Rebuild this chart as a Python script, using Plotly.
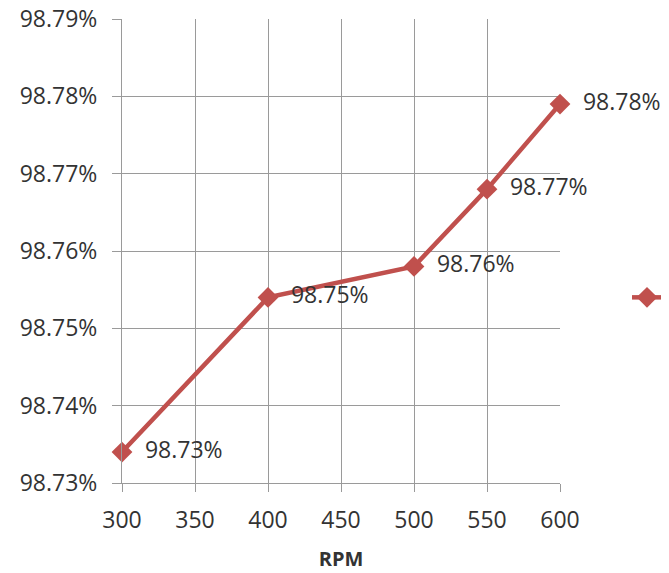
import plotly.graph_objects as go

rpm = [300, 400, 500, 550, 600]
efficiency = [0.98734, 0.98754, 0.98758, 0.98768, 0.98779]
series_name = "Efficiency"

line_color = "#C0504D"
grid_color = "#9A9A9A"
text_color = "#333333"
font_family = "Open Sans"

fig = go.Figure()
fig.add_trace(go.Scatter(
    x=rpm, y=efficiency, name=series_name,
    mode="lines+markers+text",
    line=dict(color=line_color, width=4.5),
    marker=dict(symbol="diamond", size=16, color=line_color),
    texttemplate="  %{y:.2%}",
    textposition="middle right",
    textfont=dict(family=font_family, size=23, color=text_color),
    cliponaxis=False,
))

fig.update_layout(
    width=669, height=573,
    margin=dict(l=114, r=117, t=10.5, b=98, autoexpand=False),
    paper_bgcolor="white", plot_bgcolor="white",
    font=dict(family=font_family, size=23, color=text_color),
    showlegend=True,
    legend=dict(x=1.153, y=0.4, xanchor="left", yanchor="middle",
                font=dict(size=23, color=text_color), bgcolor="rgba(0,0,0,0)"),
    xaxis=dict(
        range=[300, 600], dtick=50, tick0=300,
        showgrid=True, gridcolor=grid_color, gridwidth=1,
        showline=True, linecolor=grid_color, linewidth=1, mirror=False,
        ticks="outside", ticklen=8, tickcolor=grid_color,
        ticklabelstandoff=8,
        zeroline=False,
        title=dict(text="<b>RPM</b>", font=dict(size=20, color=text_color), standoff=18),
        tickfont=dict(size=23, color=text_color),
    ),
    yaxis=dict(
        range=[0.9873, 0.98790001], dtick=0.0001, tick0=0.9873,
        tickformat=".2%",
        ticklabeloverflow="allow",
        showgrid=True, gridcolor=grid_color, gridwidth=1,
        showline=True, linecolor=grid_color, linewidth=1,
        ticks="outside", ticklen=9, tickcolor=grid_color,
        ticklabelstandoff=10,
        zeroline=False,
        tickfont=dict(size=23, color=text_color),
    ),
)

fig.write_html("out.html")
